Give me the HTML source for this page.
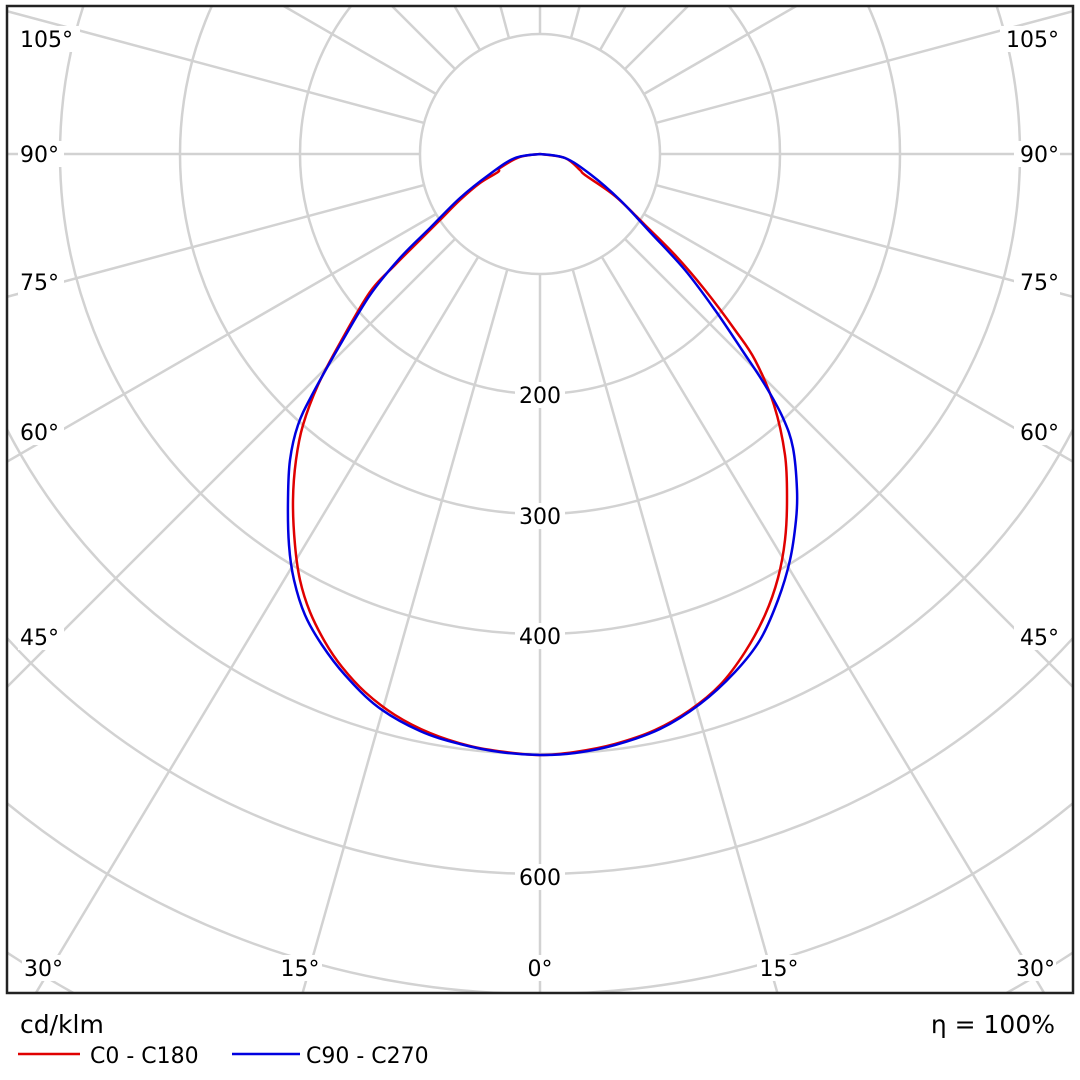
<!DOCTYPE html>
<html><head><style>
html,body{margin:0;background:#fff;width:1080px;height:1080px;overflow:hidden}
svg{display:block}
text{font-family:"DejaVu Sans","Liberation Sans",sans-serif;fill:#000}
</style></head><body>
<svg width="1080" height="1080" viewBox="0 0 1080 1080">
<defs><clipPath id="c"><rect x="7" y="6" width="1066" height="987"/></clipPath></defs>
<g clip-path="url(#c)" stroke="#d2d2d2" stroke-width="2.5" fill="none">
<circle cx="540" cy="154" r="120"/><circle cx="540" cy="154" r="240"/><circle cx="540" cy="154" r="360"/>
<circle cx="540" cy="154" r="480"/><circle cx="540" cy="154" r="600"/><circle cx="540" cy="154" r="720"/>
<circle cx="540" cy="154" r="840"/><circle cx="540" cy="154" r="960"/>
<g>
<line x1="540" y1="274" x2="540" y2="1300"/>
<line x1="540" y1="274" x2="540" y2="1300" transform="rotate(15.8 540 154)"/>
<line x1="540" y1="274" x2="540" y2="1300" transform="rotate(31 540 154)"/>
<line x1="540" y1="274" x2="540" y2="1300" transform="rotate(45 540 154)"/>
<line x1="540" y1="274" x2="540" y2="1300" transform="rotate(60 540 154)"/>
<line x1="540" y1="274" x2="540" y2="1300" transform="rotate(75 540 154)"/>
<line x1="540" y1="274" x2="540" y2="1300" transform="rotate(90 540 154)"/>
<line x1="540" y1="274" x2="540" y2="1300" transform="rotate(105 540 154)"/>
<line x1="540" y1="274" x2="540" y2="1300" transform="rotate(120 540 154)"/>
<line x1="540" y1="274" x2="540" y2="1300" transform="rotate(135 540 154)"/>
<line x1="540" y1="274" x2="540" y2="1300" transform="rotate(150 540 154)"/>
<line x1="540" y1="274" x2="540" y2="1300" transform="rotate(165 540 154)"/>
<line x1="540" y1="274" x2="540" y2="1300" transform="rotate(180 540 154)"/>
<line x1="540" y1="274" x2="540" y2="1300" transform="rotate(195 540 154)"/>
<line x1="540" y1="274" x2="540" y2="1300" transform="rotate(210 540 154)"/>
<line x1="540" y1="274" x2="540" y2="1300" transform="rotate(225 540 154)"/>
<line x1="540" y1="274" x2="540" y2="1300" transform="rotate(240 540 154)"/>
<line x1="540" y1="274" x2="540" y2="1300" transform="rotate(255 540 154)"/>
<line x1="540" y1="274" x2="540" y2="1300" transform="rotate(270 540 154)"/>
<line x1="540" y1="274" x2="540" y2="1300" transform="rotate(285 540 154)"/>
<line x1="540" y1="274" x2="540" y2="1300" transform="rotate(300 540 154)"/>
<line x1="540" y1="274" x2="540" y2="1300" transform="rotate(315 540 154)"/>
<line x1="540" y1="274" x2="540" y2="1300" transform="rotate(329 540 154)"/>
<line x1="540" y1="274" x2="540" y2="1300" transform="rotate(344.2 540 154)"/>
</g>
</g>
<g font-size="22" text-anchor="middle">
<rect x="515" y="382" width="50" height="26" fill="#fff"/><text x="540" y="403">200</text>
<rect x="515" y="503" width="50" height="26" fill="#fff"/><text x="540" y="524">300</text>
<rect x="515" y="623" width="50" height="26" fill="#fff"/><text x="540" y="644">400</text>
<rect x="515" y="864" width="50" height="26" fill="#fff"/><text x="540" y="885">600</text>
</g>
<g font-size="22">
<rect x="18" y="26" width="62" height="26" fill="#fff"/><text x="20" y="47">105°</text>
<rect x="18" y="141" width="46" height="26" fill="#fff"/><text x="20" y="162">90°</text>
<rect x="18" y="269" width="46" height="26" fill="#fff"/><text x="20" y="290">75°</text>
<rect x="18" y="419" width="46" height="26" fill="#fff"/><text x="20" y="440">60°</text>
<rect x="18" y="624" width="46" height="26" fill="#fff"/><text x="20" y="645">45°</text>
<rect x="22" y="955" width="46" height="26" fill="#fff"/><text x="24" y="976">30°</text>
<rect x="1000" y="26" width="62" height="26" fill="#fff"/><text x="1059" y="47" text-anchor="end">105°</text>
<rect x="1014" y="141" width="46" height="26" fill="#fff"/><text x="1059" y="162" text-anchor="end">90°</text>
<rect x="1014" y="269" width="46" height="26" fill="#fff"/><text x="1059" y="290" text-anchor="end">75°</text>
<rect x="1014" y="419" width="46" height="26" fill="#fff"/><text x="1059" y="440" text-anchor="end">60°</text>
<rect x="1014" y="624" width="46" height="26" fill="#fff"/><text x="1059" y="645" text-anchor="end">45°</text>
<rect x="1010" y="955" width="46" height="26" fill="#fff"/><text x="1055" y="976" text-anchor="end">30°</text>
<rect x="278" y="955" width="44" height="26" fill="#fff"/><text x="300" y="976" text-anchor="middle">15°</text>
<rect x="523" y="955" width="34" height="26" fill="#fff"/><text x="540" y="976" text-anchor="middle">0°</text>
<rect x="757" y="955" width="44" height="26" fill="#fff"/><text x="779" y="976" text-anchor="middle">15°</text>
</g>
<g fill="none" stroke-width="2.5" stroke-linejoin="round">
<path id="pr" stroke="#e00000" d=""/>
<path id="pb" stroke="#0000e0" d=""/>
<polyline id="lr" stroke="#e00000" points="540,154 520,157 500,168 498,172 480,183 460,200 440,220 420,240 395,265 370,292 340,343 318,385 303,425 296,460 293,500 295,545 300,580 310,612 325,642 342,667 365,692 395,715 430,733 470,746 505,752 540,755 575,752 615,744 655,730 690,710 720,685 745,652 765,615 778,578 785,540 787,500 785,455 774,405 755,360 735,330 705,290 675,255 645,225 615,196 585,175 580,170 565,158 540,154"/>
<polyline id="lb" stroke="#0000e0" points="540,154 515,158 490,174 460,198 430,228 400,258 370,295 340,345 312,395 298,425 290,460 288,500 289,545 294,580 305,615 322,645 345,675 378,707 420,731 460,744 500,752 540,755 575,753 615,745 660,729 700,704 735,672 760,640 778,600 790,560 796,520 797,490 793,448 783,418 765,385 742,350 715,310 685,270 650,232 620,200 590,174 565,158 540,154"/>
</g>
<rect x="7" y="6" width="1066" height="987" fill="none" stroke="#222" stroke-width="2.5"/>
<text x="20" y="1033" font-size="25">cd/klm</text>
<text x="1055" y="1033" font-size="25" text-anchor="end">η = 100%</text>
<line x1="18" y1="1054" x2="80" y2="1054" stroke="#e00000" stroke-width="2.5"/>
<text x="90" y="1063" font-size="22">C0 - C180</text>
<line x1="232" y1="1054" x2="300" y2="1054" stroke="#0000e0" stroke-width="2.5"/>
<text x="306" y="1063" font-size="22">C90 - C270</text>
</svg>
<script>
function smooth(pid,lid){
 var pl=document.getElementById(lid);
 var p=pl.getAttribute('points').trim().split(/\s+/).map(function(s){return s.split(',').map(Number)});
 var d='M'+p[0][0]+','+p[0][1];
 for(var i=0;i<p.length-1;i++){
  var p0=p[Math.max(i-1,0)],p1=p[i],p2=p[i+1],p3=p[Math.min(i+2,p.length-1)];
  var c1x=p1[0]+(p2[0]-p0[0])/6,c1y=p1[1]+(p2[1]-p0[1])/6;
  var c2x=p2[0]-(p3[0]-p1[0])/6,c2y=p2[1]-(p3[1]-p1[1])/6;
  d+=' C'+c1x.toFixed(1)+','+c1y.toFixed(1)+' '+c2x.toFixed(1)+','+c2y.toFixed(1)+' '+p2[0]+','+p2[1];
 }
 document.getElementById(pid).setAttribute('d',d);
 pl.parentNode.removeChild(pl);
}
try{smooth('pr','lr');smooth('pb','lb');}catch(e){}
</script>
</body></html>
